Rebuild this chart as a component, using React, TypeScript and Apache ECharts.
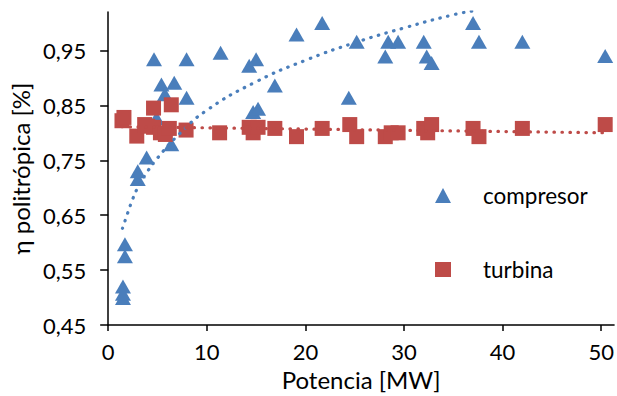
import React, { useEffect, useRef } from "react";
import * as echarts from "echarts";

// compresor (triangles)
const compX = [1.5, 1.5, 1.5, 1.7, 1.7, 3.0, 3.0, 3.9, 6.4, 4.65, 7.95, 5.4, 6.7, 5.75, 7.95, 4.9,
  11.4, 14.3, 15.0, 19.1, 21.7, 16.9, 14.7, 15.2, 24.4, 25.2, 28.1, 28.4, 29.4,
  32.0, 32.3, 32.8, 37.0, 37.6, 42.0, 50.4];
const compY = [0.499, 0.507, 0.520, 0.575, 0.597, 0.716, 0.730, 0.755, 0.779, 0.934, 0.934, 0.888, 0.891, 0.870, 0.864, 0.827,
  0.946, 0.922, 0.934, 0.979, 1.000, 0.886, 0.838, 0.844, 0.864, 0.966, 0.939, 0.966, 0.966,
  0.966, 0.939, 0.927, 1.000, 0.966, 0.966, 0.940];

// turbina (squares)
const turbX = [1.4, 1.6, 2.9, 4.6, 6.4, 4.0, 3.7, 4.6, 5.3, 5.8, 6.2, 7.9,
  11.3, 14.3, 14.7, 15.2, 16.9, 19.1, 21.7, 24.5, 25.2, 28.1, 28.7, 29.4,
  32.0, 32.4, 32.8, 37.0, 37.6, 42.0, 50.4];
const turbY = [0.822, 0.828, 0.794, 0.845, 0.851, 0.812, 0.815, 0.810, 0.800, 0.797, 0.808, 0.805,
  0.800, 0.810, 0.800, 0.810, 0.808, 0.793, 0.808, 0.815, 0.793, 0.793, 0.800, 0.800,
  0.808, 0.800, 0.815, 0.808, 0.793, 0.808, 0.815];

// trendlines
const compTrendX = [1.45, 2, 2.5, 3, 4, 5, 7, 10, 15, 20, 25, 30, 35, 37];
const compTrendY = [0.626, 0.655, 0.68, 0.7, 0.73, 0.754, 0.794, 0.841, 0.893, 0.932, 0.964, 0.991, 1.015, 1.022];
const turbTrendX = [1.4, 50.4];
const turbTrendY = [0.811, 0.8];

const xTicks = [0, 10, 20, 30, 40, 50];
const yTicks = [0.45, 0.55, 0.65, 0.75, 0.85, 0.95];

const BLUE = "#4A7EBB";
const RED = "#BE4B48";
const FONT = "Lato";

const zip = (a: number[], b: number[]) => a.map((v, i) => [v, b[i]]);

export default function App() {
  const ref = useRef<HTMLDivElement>(null);
  useEffect(() => {
    const chart = echarts.init(ref.current!, null, { renderer: "svg" });
    chart.setOption({
      animation: false,
      textStyle: { fontFamily: FONT },
      grid: { left: 108, right: 1, top: 12, bottom: 68 },
      legend: {
        orient: "vertical",
        left: 430,
        top: 179,
        itemGap: 51,
        itemWidth: 16,
        itemHeight: 15,
        data: ["compresor", "turbina"],
        textStyle: { fontFamily: FONT, fontSize: 22.5, color: "#000", padding: [0, 0, 0, 27] },
      },
      xAxis: {
        type: "value",
        min: 0,
        max: 51.3,
        name: "Potencia [MW]",
        nameLocation: "middle",
        nameGap: 42,
        nameTextStyle: { fontFamily: FONT, fontSize: 24, color: "#000" },
        splitLine: { show: false },
        axisLine: { lineStyle: { color: "#000", width: 1.5 } },
        axisTick: { show: true, customValues: xTicks, length: 6, lineStyle: { color: "#000", width: 1.5 } },
        axisLabel: { customValues: xTicks, margin: 15, fontFamily: FONT, fontSize: 22, color: "#000" },
      },
      yAxis: {
        type: "value",
        min: 0.45,
        max: 1.02,
        name: "η politrópica [%]",
        nameLocation: "middle",
        nameGap: 66,
        nameTextStyle: { fontFamily: FONT, fontSize: 24, color: "#000" },
        splitLine: { show: false },
        axisLine: { show: true, lineStyle: { color: "#000", width: 1.5 } },
        axisTick: { show: true, customValues: yTicks, length: 8, lineStyle: { color: "#000", width: 1.5 } },
        axisLabel: {
          customValues: yTicks,
          margin: 22,
          fontFamily: FONT,
          fontSize: 22,
          color: "#000",
          formatter: (v: number) => v.toFixed(2).replace(".", ","),
        },
      },
      series: [
        {
          name: "compresor",
          type: "scatter",
          symbol: "triangle",
          symbolSize: [16, 14],
          itemStyle: { color: BLUE, opacity: 1 },
          data: zip(compX, compY),
          z: 3,
        },
        {
          name: "turbina",
          type: "scatter",
          symbol: "rect",
          symbolSize: 15,
          itemStyle: { color: RED, opacity: 1 },
          data: zip(turbX, turbY),
          z: 4,
        },
        {
          name: "trend compresor",
          type: "line",
          smooth: true,
          showSymbol: false,
          silent: true,
          data: zip(compTrendX, compTrendY),
          lineStyle: { color: BLUE, width: 3.2, type: [0.5, 7.5], cap: "round" },
          z: 5,
        },
        {
          name: "trend turbina",
          type: "line",
          showSymbol: false,
          silent: true,
          data: zip(turbTrendX, turbTrendY),
          lineStyle: { color: RED, width: 3.2, type: [0.5, 7.5], cap: "round" },
          z: 5,
        },
      ],
    });
    return () => chart.dispose();
  }, []);
  return (
    <div
      ref={ref}
      style={{ position: "absolute", left: 0, top: 0, width: 617, height: 396, background: "#fff" }}
    />
  );
}
